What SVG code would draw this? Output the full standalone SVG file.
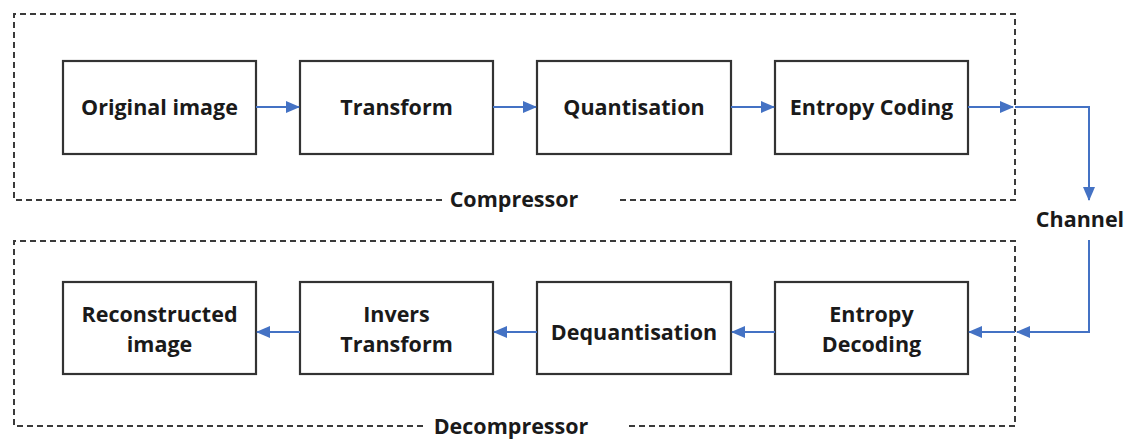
<svg xmlns="http://www.w3.org/2000/svg" width="1128" height="439" viewBox="0 0 1128 439">
<style>
.frame{fill:none;stroke:#3a3a3a;stroke-width:2;stroke-dasharray:6,4}
.box{fill:#fff;stroke:#333;stroke-width:2.2}
.t{font-family:"Open Sans","Liberation Sans",sans-serif;font-weight:bold;font-size:21.5px;fill:#1a1a1a;text-anchor:middle}
.lbl{font-family:"Open Sans","Liberation Sans",sans-serif;font-weight:bold;font-size:21.5px;fill:#1a1a1a;text-anchor:middle}
.c{fill:none;stroke:#4472c4;stroke-width:2}
</style>
<defs>
<marker id="ah" markerWidth="14" markerHeight="12" refX="13" refY="6" orient="auto" markerUnits="userSpaceOnUse">
<path d="M0,0 L14,6 L0,12 Z" fill="#4472c4"/>
</marker>
</defs>
<rect width="1128" height="439" fill="#fff"/>
<g id="compressor">
<path class="frame" d="M442,200 L14,200 L14,14 L1015,14 L1015,200 L618,200"/>
<text class="lbl" x="514" y="207">Compressor</text>
</g>
<g id="decompressor">
<path class="frame" d="M423,426 L14,426 L14,241 L1015,241 L1015,426 L628,426"/>
<text class="lbl" x="511" y="434">Decompressor</text>
</g>
<g id="original"><rect class="box" x="63" y="61" width="193" height="93"/><text class="t" x="159.5" y="115">Original image</text></g>
<g id="transform"><rect class="box" x="300" y="61" width="193" height="93"/><text class="t" x="396.5" y="115">Transform</text></g>
<g id="quant"><rect class="box" x="537" y="61" width="194" height="93"/><text class="t" x="634" y="115">Quantisation</text></g>
<g id="entcode"><rect class="box" x="775" y="61" width="193" height="93"/><text class="t" x="871.5" y="115">Entropy Coding</text></g>
<g id="recon"><rect class="box" x="63" y="282" width="193" height="92"/><text class="t" x="159.5" y="322">Reconstructed</text><text class="t" x="159.5" y="352">image</text></g>
<g id="invtrans"><rect class="box" x="300" y="282" width="193" height="92"/><text class="t" x="396.5" y="322">Invers</text><text class="t" x="396.5" y="352">Transform</text></g>
<g id="dequant"><rect class="box" x="537" y="282" width="194" height="92"/><text class="t" x="634" y="340">Dequantisation</text></g>
<g id="entdec"><rect class="box" x="775" y="282" width="193" height="92"/><text class="t" x="871.5" y="322">Entropy</text><text class="t" x="871.5" y="352">Decoding</text></g>
<g id="channel"><text class="lbl" x="1080" y="227">Channel</text></g>
<g id="connectors">
<line class="c" x1="256" y1="107" x2="299" y2="107" marker-end="url(#ah)"/>
<line class="c" x1="493" y1="107" x2="536" y2="107" marker-end="url(#ah)"/>
<line class="c" x1="731" y1="107" x2="774" y2="107" marker-end="url(#ah)"/>
<line class="c" x1="968" y1="107" x2="1013" y2="107" marker-end="url(#ah)"/>
<path class="c" d="M1015,107 L1089,107 L1089,200" marker-end="url(#ah)"/>
<path class="c" d="M1089,240 L1089,332 L1017,332" marker-end="url(#ah)"/>
<line class="c" x1="1015" y1="332" x2="969" y2="332" marker-end="url(#ah)"/>
<line class="c" x1="775" y1="332" x2="732" y2="332" marker-end="url(#ah)"/>
<line class="c" x1="537" y1="332" x2="494" y2="332" marker-end="url(#ah)"/>
<line class="c" x1="300" y1="332" x2="257" y2="332" marker-end="url(#ah)"/>
</g>
</svg>
